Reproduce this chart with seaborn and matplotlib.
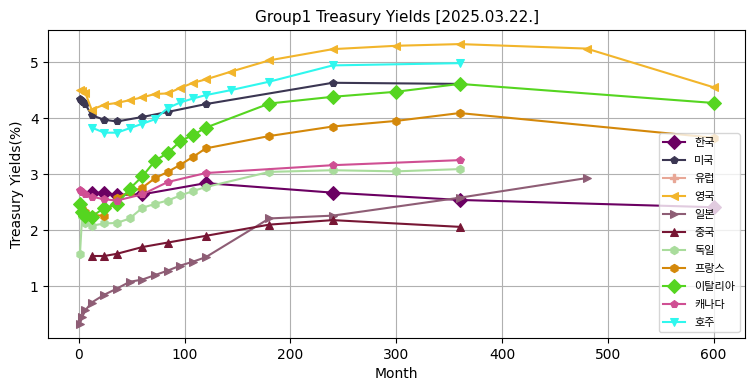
import numpy as np
import pandas as pd
import seaborn as sns
import matplotlib.pyplot as plt

# 국가별 만기(개월)와 금리(%)
kr_month = [12, 24, 36, 60, 120, 240, 360, 600]
kr_yield = [2.67, 2.67, 2.63, 2.64, 2.84, 2.67, 2.54, 2.41]

us_month = [1, 2, 3, 4, 6, 12, 24, 36, 60, 84, 120, 240, 360]
us_yield = [4.34, 4.33, 4.31, 4.29, 4.25, 4.05, 3.97, 3.94, 4.02, 4.11, 4.25, 4.63, 4.61]

eu_month = []
eu_yield = []

uk_month = [1, 3, 6, 12, 24, 36, 48, 60, 72, 84, 96, 108, 120, 144, 180, 240, 300, 360, 480, 600]
uk_yield = [4.50, 4.48, 4.45, 4.15, 4.24, 4.27, 4.32, 4.37, 4.43, 4.44, 4.54, 4.63, 4.69,
            4.83, 5.03, 5.23, 5.29, 5.32, 5.24, 4.55]

jp_month = [1, 3, 6, 12, 24, 36, 48, 60, 72, 84, 96, 108, 120, 180, 240, 360, 480]
jp_yield = [0.33, 0.45, 0.57, 0.71, 0.85, 0.96, 1.08, 1.12, 1.20, 1.28, 1.37, 1.44, 1.52,
            2.21, 2.26, 2.58, 2.93]

cn_month = [12, 24, 36, 60, 84, 120, 180, 240, 360]
cn_yield = [1.54, 1.54, 1.58, 1.70, 1.78, 1.90, 2.10, 2.18, 2.06]

de_month = [1, 3, 6, 12, 24, 36, 48, 60, 72, 84, 96, 108, 120, 180, 240, 300, 360]
de_yield = [1.58, 2.25, 2.13, 2.08, 2.12, 2.13, 2.21, 2.40, 2.47, 2.53, 2.62, 2.70, 2.77,
            3.04, 3.07, 3.05, 3.09]

fr_month = [3, 6, 12, 24, 36, 48, 60, 72, 84, 96, 108, 120, 180, 240, 300, 360, 600]
fr_yield = [2.38, 2.32, 2.28, 2.25, 2.58, 2.68, 2.76, 2.93, 3.04, 3.17, 3.31, 3.46,
            3.68, 3.85, 3.95, 4.09, 3.65]

it_month = [1, 3, 6, 12, 24, 36, 48, 60, 72, 84, 96, 108, 120, 180, 240, 300, 360, 600]
it_yield = [2.47, 2.32, 2.26, 2.24, 2.40, 2.46, 2.74, 2.96, 3.24, 3.38, 3.59, 3.70, 3.83,
            4.26, 4.38, 4.47, 4.61, 4.27]

ca_month = [1, 2, 3, 6, 12, 24, 36, 60, 84, 120, 240, 360]
ca_yield = [2.71, 2.70, 2.68, 2.65, 2.60, 2.55, 2.53, 2.64, 2.86, 3.02, 3.16, 3.25]

au_month = [12, 24, 36, 48, 60, 72, 84, 96, 108, 120, 144, 180, 240, 360]
au_yield = [3.83, 3.74, 3.74, 3.82, 3.90, 3.98, 4.18, 4.28, 4.35, 4.41, 4.50, 4.65, 4.94, 4.98]

series = [
    ('한국', kr_month, kr_yield, '#6b0062', 'D', 7),
    ('미국', us_month, us_yield, '#3b3652', 'p', 6),
    ('유럽', eu_month, eu_yield, '#e8a796', 'P', 6),
    ('영국', uk_month, uk_yield, '#f2b52b', '<', 6),
    ('일본', jp_month, jp_yield, '#8e5d75', '>', 6),
    ('중국', cn_month, cn_yield, '#771634', '^', 6),
    ('독일', de_month, de_yield, '#a9dc9c', 'h', 6),
    ('프랑스', fr_month, fr_yield, '#d4880a', 'h', 6),
    ('이탈리아', it_month, it_yield, '#55d520', 'D', 7),
    ('캐나다', ca_month, ca_yield, '#cf4f93', 'p', 6),
    ('호주', au_month, au_yield, '#2ff7ee', 'v', 6),
]

fig, ax = plt.subplots(figsize=(7.55, 3.91), dpi=100)
plt.rcParams['font.family'] = ['DejaVu Sans', 'Noto Sans CJK KR']

for name, month, yld, color, marker, ms in series:
    if len(month) == 0:
        # 데이터 없음 -> 범례에만 표시
        ax.plot([], [], color=color, marker=marker, markersize=ms, label=name)
        continue
    sns.lineplot(x=month, y=yld, ax=ax, color=color, marker=marker, markersize=ms,
                 markeredgecolor=color, linewidth=1.5, label=name)

ax.grid(True, color='#b0b0b0', linewidth=0.8)
ax.set_xlabel('Month')
ax.set_ylabel('Treasury Yields(%)')
ax.set_title('Group1 Treasury Yields [2025.03.22.]', fontsize=11)
ax.legend(loc='lower right', prop={'family': ['Noto Sans CJK KR'], 'size': 8}, labelspacing=0.72)

fig.subplots_adjust(left=0.064, right=0.987, top=0.923, bottom=0.136)
fig.savefig('out.png')
